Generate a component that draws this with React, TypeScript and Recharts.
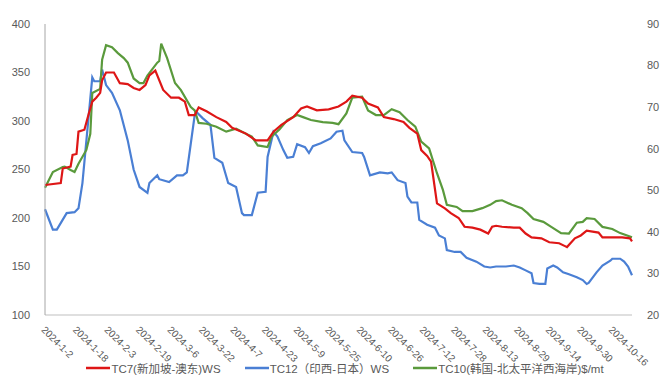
import { LineChart, Line, XAxis, YAxis, Legend } from "recharts";

// x = days since 2024-1-2
const tickLabels = [
  "2024-1-2", "2024-1-18", "2024-2-3", "2024-2-19", "2024-3-6", "2024-3-22",
  "2024-4-7", "2024-4-23", "2024-5-9", "2024-5-25", "2024-6-10", "2024-6-26",
  "2024-7-12", "2024-7-28", "2024-8-13", "2024-8-29", "2024-9-14", "2024-9-30",
  "2024-10-16",
];
const tickDays = tickLabels.map((_, i) => i * 16);

// TC7 (新加坡-澳东) WS, left axis
const tc7Days = [
  0, 8, 9, 13, 14, 16, 17, 20, 22, 24, 26, 28, 29, 31, 35, 38, 42, 45, 48, 51,
  53, 56, 60, 64, 68, 71, 73, 76, 78, 82, 87, 92, 95, 102, 107, 113, 116, 120,
  126, 130, 133, 138, 144, 149, 153, 156, 161, 164, 169, 172, 177, 182, 185,
  189, 191, 194, 196, 199, 203, 206, 210, 213, 217, 221, 225, 227, 229, 232,
  238, 241, 244, 247, 252, 256, 261, 264, 265, 269, 272, 275, 278, 281, 283,
  288, 293, 297, 298,
];
const tc7Values = [
  234, 236, 251, 253, 265, 266, 289, 291, 306, 320, 324, 329, 342, 350, 350,
  339, 338, 334, 332, 337, 347, 352, 332, 324, 324, 320, 306, 306, 314, 310,
  304, 299, 293, 287, 280, 280, 289, 296, 304, 313, 315, 311, 312, 315, 320,
  326, 324, 318, 314, 304, 302, 299, 293, 287, 270, 264, 258, 215, 210, 205,
  200, 191, 190, 188, 184, 191, 192, 191, 190, 190, 184, 180, 179, 175, 174,
  171, 170, 179, 182, 187, 186, 185, 180, 180, 180, 179, 176,
];

// TC12 (印西-日本) WS, left axis
const tc12Days = [
  0, 4, 6, 11, 15, 17, 19, 24, 25, 28, 29, 31, 34, 38, 42, 45, 48, 52, 53, 57,
  58, 63, 67, 70, 72, 76, 77, 80, 84, 86, 90, 93, 97, 100, 101, 105, 108, 112,
  113, 116, 118, 121, 123, 126, 128, 132, 134, 136, 140, 145, 148, 151, 152,
  156, 161, 162, 165, 170, 174, 176, 179, 183, 184, 186, 189, 190, 194, 198,
  200, 203, 204, 208, 211, 214, 219, 223, 226, 229, 234, 238, 241, 244, 247,
  248, 251, 254, 255, 258, 260, 263, 266, 270, 273, 275, 276, 280, 283, 287,
  288, 292, 294, 296, 298,
];
const tc12Values = [
  209, 188, 188, 205, 206, 210, 236, 345, 341, 341, 353, 337, 329, 311, 280,
  250, 232, 226, 236, 244, 240, 237, 244, 244, 247, 306, 309, 303, 296, 262,
  257, 236, 232, 205, 203, 203, 226, 227, 263, 289, 284, 270, 262, 263, 276,
  273, 267, 274, 277, 282, 289, 290, 280, 268, 267, 263, 244, 247, 246, 247,
  239, 236, 222, 216, 216, 198, 193, 190, 182, 179, 167, 165, 165, 159, 155,
  150, 149, 150, 150, 151, 149, 146, 143, 133, 132, 132, 148, 151, 149, 144,
  142, 139, 136, 132, 133, 144, 151, 156, 158, 158, 155, 150, 141,
];

// TC10 (韩国-北太平洋西海岸) $/mt, right axis
const tc10Days = [
  0, 4, 9, 10, 13, 15, 17, 21, 23, 24, 28, 29, 31, 34, 37, 40, 42, 45, 48, 50,
  52, 57, 58, 59, 62, 66, 69, 74, 76, 78, 82, 87, 92, 97, 102, 105, 108, 113,
  115, 119, 123, 128, 131, 135, 141, 146, 149, 153, 156, 161, 164, 168, 172,
  176, 180, 184, 188, 191, 195, 199, 202, 204, 209, 212, 217, 222, 226, 229,
  232, 237, 242, 245, 248, 253, 257, 262, 266, 270, 273, 275, 279, 283, 288,
  292, 298,
];
const tc10Values = [
  50.6, 54.4, 55.6, 55.7, 54.9, 54.4, 56.4, 59.7, 63.6, 73.4, 74.4, 81.4, 84.9,
  84.4, 83.0, 81.8, 80.7, 76.9, 75.8, 75.8, 77.6, 80.7, 81.1, 85.3, 81.8, 75.8,
  74.1, 70.0, 69.2, 66.2, 66.0, 65.3, 64.1, 64.8, 63.6, 62.9, 60.8, 60.4, 62.9,
  64.6, 66.9, 68.1, 67.6, 66.9, 66.4, 66.2, 65.9, 68.5, 72.3, 72.5, 69.2, 68.1,
  68.1, 69.5, 68.8, 66.9, 65.3, 61.7, 60.1, 54.1, 50.1, 46.5, 46.0, 45.0, 45.0,
  45.7, 46.5, 47.4, 47.6, 46.5, 45.7, 44.5, 43.1, 42.4, 41.2, 39.7, 39.6, 42.2,
  42.4, 43.3, 43.1, 41.2, 40.7, 39.7, 38.7,
];

const leftTicks = [100, 150, 200, 250, 300, 350, 400];
const rightTicks = [20, 30, 40, 50, 60, 70, 80, 90];

const series = [
  { name: "TC7(新加坡-澳东)WS", color: "#DE1616" },
  { name: "TC12（印西-日本）WS", color: "#4A7FD4" },
  { name: "TC10(韩国-北太平洋西海岸)$/mt", color: "#5A9A3C" },
];

const toRows = (days: number[], values: number[]) =>
  days.map((d, i) => ({ day: d, value: values[i] }));

const FONT = '"Liberation Sans", "Noto Sans CJK SC", sans-serif';
const TEXT = "#595959";

function DateTick(props: any) {
  const { x, y, payload } = props;
  const label = tickLabels[tickDays.indexOf(payload.value)] ?? "";
  return (
    <g transform={`translate(${x},${y + 6}) rotate(45)`}>
      <text x={-2} y={4} textAnchor="start" fill={TEXT} fontSize={10} fontFamily={FONT}>
        {label}
      </text>
    </g>
  );
}

function LegendBox() {
  return (
    <div
      style={{
        display: "flex",
        justifyContent: "center",
        gap: 24,
        fontFamily: FONT,
        fontSize: 11.5,
        color: TEXT,
        paddingLeft: 20,
      }}
    >
      {series.map((s) => (
        <div key={s.name} style={{ display: "flex", alignItems: "center" }}>
          <svg width={24} height={4} style={{ marginRight: 1 }}>
            <line x1={0} y1={2} x2={24} y2={2} stroke={s.color} strokeWidth={2.5} />
          </svg>
          <span>{s.name}</span>
        </div>
      ))}
    </div>
  );
}

export default function App() {
  return (
    <div style={{ position: "absolute", left: 0, top: 0, background: "#fff" }}>
      <LineChart width={670} height={380} margin={{ top: 24, right: 0, left: 0, bottom: 0 }}>
        <XAxis
          dataKey="day"
          type="number"
          domain={[0, 298]}
          ticks={tickDays}
          tick={<DateTick />}
          tickLine={false}
          axisLine={{ stroke: "#BFBFBF" }}
          height={45}
          interval={0}
          allowDuplicatedCategory={false}
        />
        <YAxis
          yAxisId="left"
          domain={[100, 400]}
          ticks={leftTicks}
          width={45}
          tickLine={false}
          axisLine={{ stroke: "#A6A6A6" }}
          tickMargin={9}
          tick={{ fill: TEXT, fontSize: 11, fontFamily: FONT }}
        />
        <YAxis
          yAxisId="right"
          orientation="right"
          domain={[20, 90]}
          ticks={rightTicks}
          width={38}
          tickLine={false}
          axisLine={false}
          tickMargin={9}
          tick={{ fill: TEXT, fontSize: 11, fontFamily: FONT }}
        />
        <Legend verticalAlign="bottom" height={20} content={<LegendBox />} />
        <Line
          yAxisId="left"
          data={toRows(tc12Days, tc12Values)}
          dataKey="value"
          name={series[1].name}
          stroke={series[1].color}
          strokeWidth={2.2}
          dot={false}
          type="linear"
          isAnimationActive={false}
        />
        <Line
          yAxisId="right"
          data={toRows(tc10Days, tc10Values)}
          dataKey="value"
          name={series[2].name}
          stroke={series[2].color}
          strokeWidth={2.2}
          dot={false}
          type="linear"
          isAnimationActive={false}
        />
        <Line
          yAxisId="left"
          data={toRows(tc7Days, tc7Values)}
          dataKey="value"
          name={series[0].name}
          stroke={series[0].color}
          strokeWidth={2.2}
          dot={false}
          type="linear"
          isAnimationActive={false}
        />
      </LineChart>
    </div>
  );
}
